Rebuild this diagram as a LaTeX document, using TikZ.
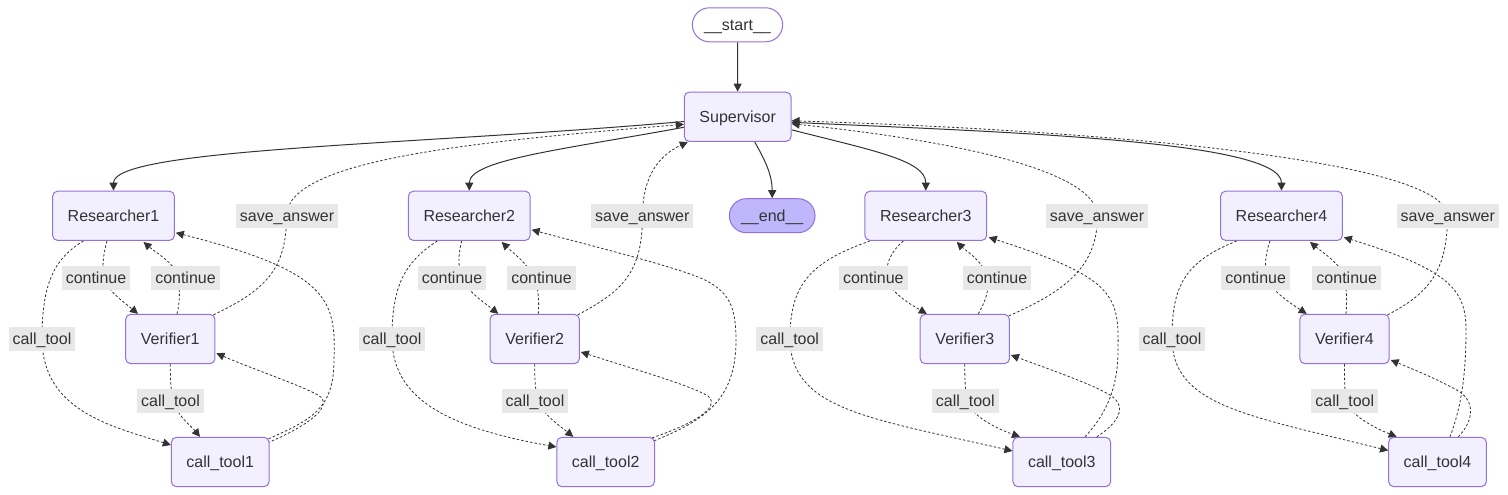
\documentclass[tikz,border=0pt]{standalone}
\usepackage{fontspec}
\setmainfont{Liberation Sans}
\usetikzlibrary{arrows.meta,calc,backgrounds}
\definecolor{nodefill}{HTML}{F2F0FF}
\definecolor{nodedraw}{HTML}{9370DB}
\definecolor{endfill}{HTML}{BFB6FC}
\definecolor{edgecol}{HTML}{333333}
\definecolor{lblbg}{HTML}{E8E8E8}
\definecolor{txtcol}{HTML}{333333}
\tikzset{
  basefont/.style={font=\fontsize{16pt}{19pt}\selectfont, text=txtcol},
  box/.style={basefont, draw=nodedraw, fill=nodefill, line width=1pt, rounded corners=5pt,
    minimum height=49.3pt, inner sep=0pt, text height=11.5pt, text depth=0.5pt},
  pill/.style={basefont, draw=nodedraw, line width=1pt, rounded corners=17pt,
    minimum height=34pt, inner sep=0pt, text height=11.5pt, text depth=0.5pt},
  lbl/.style={basefont, fill=lblbg, inner xsep=4pt, inner ysep=0pt, minimum height=24pt,
    text height=11.5pt, text depth=0.5pt},
  sol/.style={draw=edgecol, line width=1pt, -{Triangle[length=8pt,width=8pt]}},
  dot/.style={draw=edgecol, line width=0.8pt, dash pattern=on 2.5pt off 2pt,
    -{Triangle[length=8pt,width=8pt]}},
}
\begin{document}
\begin{tikzpicture}[x=1pt,y=-1pt]
\useasboundingbox (0,0) rectangle (1508,495);
% nodes
\node[pill, fill=white, minimum width=90.3pt] (start) at (737.5,24.8) {\_\_start\_\_};
\node[box, minimum width=106.7pt] (sup) at (737.7,116.8) {Supervisor};
\node[pill, fill=endfill, minimum width=85.7pt] (endn) at (772.2,215.7) {\_\_end\_\_};
\node[box, minimum width=121.7pt] (r1) at (113.5,215.8) {Researcher1};
\node[box, minimum width=89.3pt] (v1) at (170.3,339) {Verifier1};
\node[box, minimum width=97.7pt] (c1) at (220.2,462) {call\_tool1};
\node[box, minimum width=121.7pt] (r2) at (469.3,215.8) {Researcher2};
\node[box, minimum width=89.3pt] (v2) at (534.7,339) {Verifier2};
\node[box, minimum width=97.7pt] (c2) at (605.7,462) {call\_tool2};
\node[box, minimum width=121.7pt] (r3) at (925.8,215.8) {Researcher3};
\node[box, minimum width=89.3pt] (v3) at (964.8,339) {Verifier3};
\node[box, minimum width=97.7pt] (c3) at (1061.8,462) {call\_tool3};
\node[box, minimum width=121.7pt] (r4) at (1281.5,215.8) {Researcher4};
\node[box, minimum width=89.3pt] (v4) at (1344.5,339) {Verifier4};
\node[box, minimum width=97.7pt] (c4) at (1437.5,462) {call\_tool4};
% labels
\node[lbl] (sa1) at (287,216) {save\_answer};
\node[lbl] (cl1) at (96,277.5) {continue};
\node[lbl] (cr1) at (185.5,277.5) {continue};
\node[lbl] (tl1) at (42,338.5) {call\_tool};
\node[lbl] (tb1) at (170.5,400.5) {call\_tool};
\node[lbl] (sa2) at (642.3,216) {save\_answer};
\node[lbl] (cl2) at (452,277.5) {continue};
\node[lbl] (cr2) at (541.5,277.5) {continue};
\node[lbl] (tl2) at (392,338.5) {call\_tool};
\node[lbl] (tb2) at (535,400.5) {call\_tool};
\node[lbl] (sa3) at (1097,216) {save\_answer};
\node[lbl] (cl3) at (873.3,277.5) {continue};
\node[lbl] (cr3) at (997,277.5) {continue};
\node[lbl] (tl3) at (789.7,338.5) {call\_tool};
\node[lbl] (tb3) at (965.3,400.5) {call\_tool};
\node[lbl] (sa4) at (1447.8,216) {save\_answer};
\node[lbl] (cl4) at (1255.7,277.5) {continue};
\node[lbl] (cr4) at (1346.7,277.5) {continue};
\node[lbl] (tl4) at (1172,338.5) {call\_tool};
\node[lbl] (tb4) at (1344.8,400.5) {call\_tool};
\begin{scope}[on background layer]
% supervisor edges
\draw[sol] (start) -- (sup);
\draw[sol] ($(sup.south)+(17,0)$) .. controls (765,160) and (772.2,175) .. (endn.north);
\draw[sol] ($(sup.west)+(0,4.7)$) .. controls (420,145) and (113.5,148) .. (r1.north);
\draw[sol] ($(sup.west)+(0,10.5)$) .. controls (560,150) and (469.3,160) .. (r2.north);
\draw[sol] ($(sup.east)+(0,13)$) .. controls (870,150) and (925.8,160) .. (r3.north);
\draw[sol] ($(sup.east)+(0,5.5)$) .. controls (1000,132) and (1281.5,140) .. (r4.north);
% group 1
\draw[dot] ($(r1.south)+(-6.5,0)$) .. controls (103,255) and (102,268) .. (104,277) .. controls (106,290) and (125,303) .. ($(v1.north)+(-32.3,0)$);
\draw[dot] ($(v1.north)+(6.7,0)$) .. controls (180,302) and (180,290) .. (178,277) .. controls (176,264) and (155,252) .. ($(r1.south)+(30,1)$);
\draw[dot] ($(r1.south)+(-30,0)$) .. controls (55,258) and (42,282) .. (42,338) .. controls (42,410) and (110,426) .. ($(c1.west)+(0,-17)$);
\draw[dot] (v1.south) .. controls (170.3,380) and (171,392) .. (173,400) .. controls (176,415) and (192,427) .. ($(c1.north)+(-20.2,0)$);
\draw[dot] ($(c1.north east)+(-1,2)$) .. controls (310,420) and (334,410) .. (334,360) .. controls (336,300) and (330,272) .. ($(r1.east)+(1,17)$);
\draw[dot] ($(c1.north east)+(-2,6)$) .. controls (310,425) and (335,405) .. (318,395) .. controls (300,385) and (250,368) .. ($(v1.east)+(1,14.3)$);
\draw[dot] ($(v1.north east)+(-2,1)$) .. controls (265,290) and (286.5,270) .. (286.5,216) .. controls (287,160) and (470,142) .. ($(sup.west)+(0,7.5)$);
% group 2
\draw[dot] ($(r2.south)+(-7.6,0)$) .. controls (458,255) and (458,268) .. (462,277) .. controls (467,292) and (485,303) .. ($(v2.north)+(-36.4,0)$);
\draw[dot] ($(v2.north)+(3.6,0)$) .. controls (539,302) and (539,290) .. (534,277) .. controls (528,264) and (512,252) .. ($(r2.south)+(32.4,1)$);
\draw[dot] ($(r2.south)+(-32,0)$) .. controls (405,262) and (392,285) .. (392,338) .. controls (392,400) and (450,428) .. ($(c2.west)+(0,-15)$);
\draw[dot] (v2.south) .. controls (534.7,378) and (535,390) .. (538,400) .. controls (542,414) and (560,426) .. ($(c2.north)+(-32.4,0)$);
\draw[dot] ($(c2.north east)+(-1,4)$) .. controls (705,420) and (736,400) .. (736,340) .. controls (736,305) and (728,292) .. (705,280) .. controls (680,268) and (600,248) .. ($(r2.east)+(1,14)$);
\draw[dot] ($(c2.north east)+(-3,1)$) .. controls (690,425) and (722,408) .. (708,396) .. controls (690,385) and (630,368) .. ($(v2.east)+(1,13)$);
\draw[dot] ($(v2.north east)+(-2,1)$) .. controls (620,292) and (642.5,275) .. (642.5,216) .. controls (642.5,175) and (660,155) .. ($(sup.south west)+(4,0)$);
% group 3
\draw[dot] ($(r3.south)+(-22.5,0)$) .. controls (893,250) and (885,262) .. (887,277) .. controls (889,292) and (910,304) .. ($(v3.north)+(-38,0)$);
\draw[dot] ($(v3.north)+(13.5,0)$) .. controls (985,302) and (990,290) .. (987,277) .. controls (984,262) and (965,250) .. ($(r3.south)+(31,1)$);
\draw[dot] ($(r3.south)+(-55.8,0)$) .. controls (810,262) and (790,285) .. (790,338) .. controls (790,410) and (870,418) .. ($(c3.west)+(0,-11)$);
\draw[dot] (v3.south) .. controls (964.8,378) and (965,390) .. (967,400) .. controls (970,415) and (995,428) .. ($(c3.north)+(-41.8,0)$);
\draw[dot] ($(c3.north)+(23.2,0)$) .. controls (1105,415) and (1118,390) .. (1118,350) .. controls (1119,295) and (1115,278) .. ($(r3.east)+(1.6,21.5)$);
\draw[dot] ($(c3.north)+(35,0)$) .. controls (1115,425) and (1130,408) .. (1110,395) .. controls (1090,383) and (1040,366) .. ($(v3.east)+(1,16)$);
\draw[dot] ($(v3.north east)+(-1,2)$) .. controls (1060,293) and (1097.5,270) .. (1097.5,216) .. controls (1097,170) and (950,140) .. ($(sup.east)+(0,7)$);
% group 4
\draw[dot] ($(r4.south)+(-11.5,0)$) .. controls (1266,252) and (1264,265) .. (1267,277) .. controls (1270,290) and (1290,303) .. ($(v4.north)+(-37.8,0)$);
\draw[dot] ($(v4.north)+(1.5,0)$) .. controls (1347,302) and (1347,290) .. (1344,277) .. controls (1341,264) and (1322,252) .. ($(r4.south)+(28.5,1)$);
\draw[dot] ($(r4.south)+(-44.8,0)$) .. controls (1185,262) and (1172,285) .. (1172,338) .. controls (1172,405) and (1245,415) .. ($(c4.west)+(0,-11.5)$);
\draw[dot] (v4.south) .. controls (1344.5,378) and (1344.5,390) .. (1346,400) .. controls (1349,415) and (1375,428) .. ($(c4.north)+(-40.8,0)$);
\draw[dot] ($(c4.north)+(12.5,0)$) .. controls (1460,410) and (1466,380) .. (1466,330) .. controls (1466,290) and (1450,270) .. ($(r4.east)+(1,21.5)$);
\draw[dot] ($(c4.north)+(20.8,0)$) .. controls (1470,425) and (1478,405) .. (1460,392) .. controls (1440,380) and (1410,368) .. ($(v4.east)+(1,21)$);
\draw[dot] ($(v4.north east)+(-2,1)$) .. controls (1425,295) and (1447.5,275) .. (1447.5,216) .. controls (1447,160) and (1100,130) .. ($(sup.east)+(0,4)$);
\end{scope}
\end{tikzpicture}
\end{document}
